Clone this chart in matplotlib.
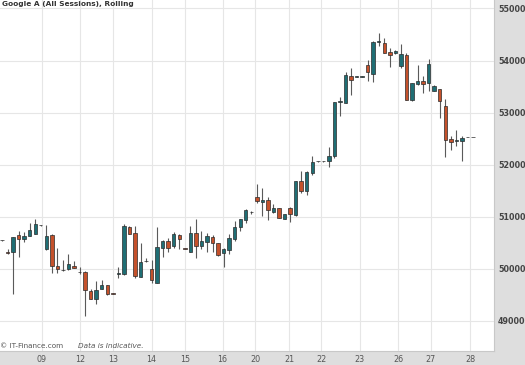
import matplotlib.pyplot as plt

# Candle data (one candle per session slot)
opens = [50545, 50320, 50315, 50660, 50580, 50640, 50675, 50845, 50375, 50660,
         50055, 49980, 49990, 50055, 49945, 49945, 49575, 49415, 49620, 49685,
         49530, 49910, 49895, 50810, 50695, 49850, 50145, 49990, 49735, 50405,
         50535, 50430, 50660, 50390, 50320, 50695, 50435, 50515, 50615, 50490,
         50310, 50360, 50565, 50810, 50935, 51085, 51375, 51280, 51330, 51090,
         51160, 50960, 51170, 51025, 51680, 51490, 51845, 52065, 52065, 52065,
         52175, 53210, 53185, 53705, 53690, 53690, 53910, 53750, 54360, 54335,
         54155, 54140, 53900, 54115, 53235, 53550, 53615, 53565, 53425, 53460,
         53130, 52495, 52460, 52460, 52530, 52530]
highs = [50560, 50375, 50620, 50735, 50700, 50890, 50950, 50850, 50840, 50665,
         50395, 50165, 50280, 50150, 50030, 49950, 49605, 49765, 49785, 49690,
         49535, 50030, 50855, 50815, 50820, 50490, 50200, 50165, 50810, 50545,
         50600, 50705, 50665, 50395, 50820, 50950, 50725, 50680, 50660, 50495,
         50405, 50675, 50915, 50955, 51155, 51105, 51630, 51555, 51385, 51250,
         51165, 51050, 51180, 51695, 51875, 51875, 52175, 52070, 52070, 52335,
         53210, 53300, 53790, 53865, 53700, 53698, 54010, 54370, 54525, 54440,
         54240, 54195, 54310, 54140, 53570, 53920, 53710, 54025, 53525, 53460,
         53260, 52555, 52670, 52555, 52535, 52535]
lows = [50540, 50280, 49510, 50225, 50525, 50635, 50670, 50830, 50370, 49915,
        49915, 49950, 49985, 50020, 49895, 49095, 49425, 49320, 49615, 49505,
        49515, 49820, 49890, 50665, 49830, 49845, 50130, 49720, 49730, 50225,
        50330, 50410, 50385, 50380, 50318, 50200, 50375, 50320, 50320, 50255,
        50040, 50295, 50535, 50725, 50885, 51045, 51260, 51010, 50935, 51065,
        50975, 50955, 50895, 51020, 51460, 51425, 51810, 52060, 52060, 51960,
        52130, 52940, 53180, 53345, 53688, 53690, 53605, 53580, 54280, 54140,
        53885, 54135, 53860, 53240, 53230, 53530, 53380, 53420, 53420, 52895,
        52150, 52290, 52350, 52065, 52528, 52528]
closes = [50555, 50310, 50610, 50580, 50630, 50755, 50855, 50835, 50630, 50055,
          50005, 49975, 50085, 50025, 49935, 49590, 49430, 49595, 49685, 49510,
          49520, 49918, 50820, 50675, 49860, 50130, 50155, 49780, 50420, 50535,
          50405, 50670, 50580, 50385, 50695, 50435, 50535, 50630, 50500, 50260,
          50375, 50600, 50810, 50950, 51125, 51090, 51300, 51330, 51125, 51170,
          50980, 51045, 51045, 51680, 51490, 51855, 52045, 52062, 52062, 52160,
          53200, 53220, 53725, 53630, 53698, 53696, 53775, 54365, 54368, 54140,
          54105, 54190, 54130, 53245, 53565, 53615, 53550, 53935, 53520, 53215,
          52480, 52430, 52465, 52515, 52533, 52533]

# Day labels and where each day starts (in candle slots)
day_labels = ['09', '12', '13', '14', '15', '16', '20', '21', '22', '23', '26', '27', '28']
day_pos = [7.2, 14.1, 20.1, 27.0, 33.0, 39.8, 45.7, 51.8, 57.6, 64.6, 71.5, 77.4, 84.5]
price_ticks = [49000, 50000, 51000, 52000, 53000, 54000, 55000]

up_color = '#1f6e74'
down_color = '#c4512b'
bg_gray = '#dedede'

fig = plt.figure(figsize=(5.25, 3.65), dpi=100, facecolor=bg_gray)
ax = fig.add_axes([0, 14 / 365, 494 / 525, 351 / 365], facecolor='white')

x = list(range(len(opens)))

# Wicks first, bodies on top
ax.vlines(x, lows, highs, color='#5a5a5a', linewidth=0.8, zorder=2)
for i in x:
    o, c = opens[i], closes[i]
    col = up_color if c >= o else down_color
    bottom = min(o, c)
    height = max(abs(c - o), 8)
    ax.bar(i, height, bottom=bottom, width=0.62, color=col,
           edgecolor='#2b2b2b', linewidth=0.5, zorder=3)

# Axes limits and grid
ax.set_xlim(-0.36, 88.8)
ax.set_ylim(48423, 55163)
ax.set_xticks(day_pos)
ax.set_xticklabels(day_labels)
ax.set_yticks(price_ticks)
ax.set_yticklabels([str(p) for p in price_ticks])
ax.yaxis.tick_right()
ax.tick_params(axis='both', length=0)
ax.tick_params(axis='x', pad=3, labelsize=5.8, labelcolor='#555555')
ax.tick_params(axis='y', pad=3, labelsize=5.8, labelcolor='#444444')
for lbl in ax.get_yticklabels():
    lbl.set_fontweight('bold')
ax.grid(True, color='#e6e6e6', linewidth=0.8, zorder=0)
ax.set_axisbelow(True)

for side in ['top', 'left']:
    ax.spines[side].set_visible(False)
for side in ['right', 'bottom']:
    ax.spines[side].set_color('#c8c8c8')
    ax.spines[side].set_linewidth(0.8)

# Title and footer text
ax.text(0.004, 0.997, 'Google A (All Sessions), Rolling', transform=ax.transAxes,
        ha='left', va='top', fontsize=5.3, fontweight='bold', color='#333333')
ax.text(0.0, 0.005, '\u00a9 IT-Finance.com', transform=ax.transAxes,
        ha='left', va='bottom', fontsize=5.2, color='#555555')
ax.text(0.158, 0.005, 'Data is Indicative.', transform=ax.transAxes,
        ha='left', va='bottom', fontsize=5.2, style='italic', color='#555555')

plt.savefig('out.png', dpi=100, facecolor=bg_gray)
